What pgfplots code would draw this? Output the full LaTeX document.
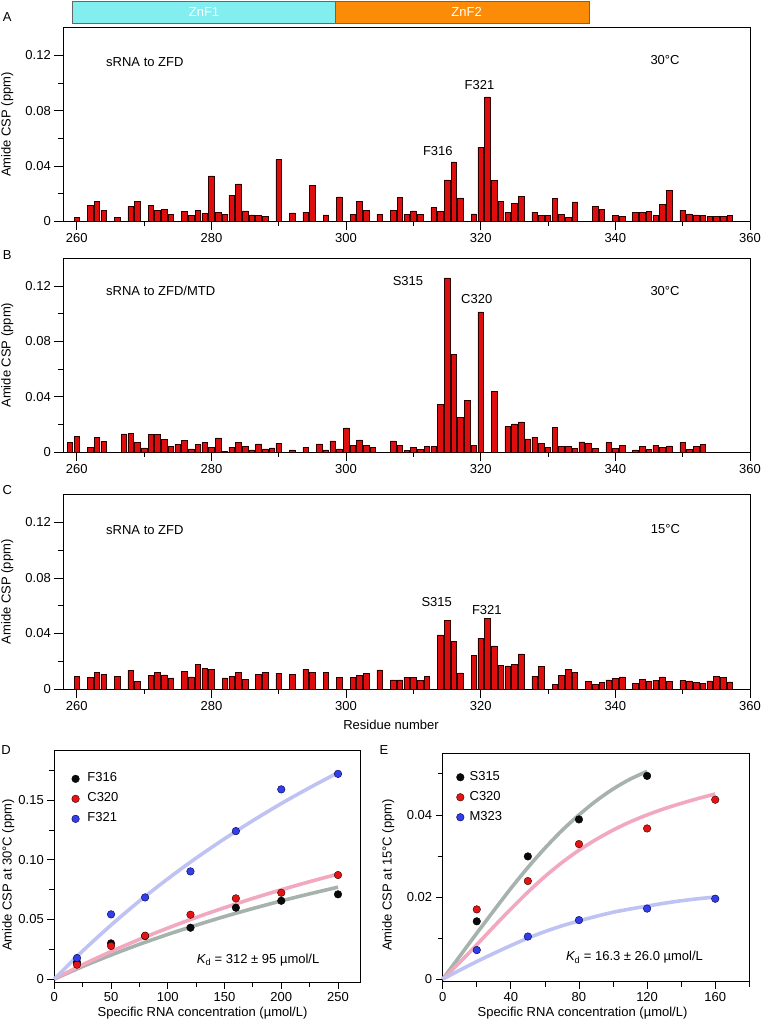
\documentclass[border=0pt]{standalone}
\usepackage{fontspec}
\setmainfont{Liberation Sans}
\usepackage{pgfplots}
\pgfplotsset{compat=1.18}
\definecolor{barred}{RGB}{222,14,14}
\definecolor{bardark}{RGB}{45,0,0}
\definecolor{znfa}{RGB}{130,238,240}
\definecolor{znfb}{RGB}{252,140,8}
\definecolor{cgray}{RGB}{166,178,172}
\definecolor{cpink}{RGB}{242,168,190}
\definecolor{cblue}{RGB}{190,195,244}
\definecolor{pblack}{RGB}{10,10,10}
\definecolor{pred}{RGB}{226,20,20}
\definecolor{pblue}{RGB}{50,62,232}
\newcommand\fs{\fontsize{13}{15.5}\selectfont}
\pgfplotsset{
  base/.style={scale only axis, anchor=south west, font=\fs, tick align=outside, tick pos=left,
    scaled ticks=false,
    major tick length=9pt, minor tick length=5pt,
    axis line style={line width=0.8pt, black}, tick style={black, line width=0.8pt},
    clip=false, ylabel style={anchor=center}, xlabel style={anchor=center}},
  csp/.style={base, width=686.7pt, xmin=258, xmax=360, ymin=0, ymax=0.14,
    xtick={260,280,300,320,340,360}, xticklabels={260,280,300,320,340,360},
    minor xtick={270,290,310,330,350},
    ytick={0,0.04,0.08,0.12}, yticklabels={0,0.04,0.08,0.12}, minor ytick={0.02,0.06,0.10},
    ylabel={Amide CSP (ppm)}, ylabel style={at={(axis description cs:-0.0816,0.5)}}},
  bars/.style={ybar, bar width=0.82, fill=barred, draw=bardark, line width=0.6pt},
  fit/.style={line width=3.6pt, smooth, forget plot},
  pts/.style={only marks, mark=*, mark size=3.8pt, mark options={line width=0.5pt}},
}
\begin{document}
\begin{tikzpicture}
\path[use as bounding box] (0pt,0pt) rectangle (763pt,1023pt);
% panel letters
\node[font=\fs] at (7.3pt,1006.3pt) {A};
\node[font=\fs] at (7.3pt,768pt) {B};
\node[font=\fs] at (7.3pt,533pt) {C};
\node[font=\fs] at (6pt,273pt) {D};
\node[font=\fs] at (384pt,273pt) {E};

% ---------------- A ----------------
\begin{axis}[csp, at={(63.3pt,801.7pt)}, height=193.6pt]
\draw[fill=znfa, draw=black!60, line width=0.6pt] (axis cs:259.34,0.1434) rectangle (axis cs:298.36,0.1593);
\draw[fill=znfb, draw=black!60, line width=0.6pt] (axis cs:298.36,0.1434) rectangle (axis cs:336.09,0.1593);
\node[font=\fs, text=white] at (axis cs:278.9,0.15135) {ZnF1};
\node[font=\fs, text=white] at (axis cs:317.9,0.15135) {ZnF2};
\addplot[bars] coordinates {
(260,0.003) (262,0.0116) (263,0.0145) (264,0.0077) (266,0.003) (268,0.0106) (269,0.0145)
(271,0.0113) (272,0.0077) (273,0.0084) (274,0.005) (276,0.0072) (277,0.004) (278,0.0077)
(279,0.0058) (280,0.0328) (281,0.0067) (282,0.005) (283,0.0188) (284,0.027) (285,0.0075)
(286,0.0046) (287,0.0043) (288,0.0036) (290,0.0448) (292,0.006) (294,0.0067) (295,0.0258)
(297,0.0046) (299,0.0176) (301,0.005) (302,0.0145) (303,0.0077) (305,0.005) (307,0.008)
(308,0.017) (309,0.005) (310,0.0075) (311,0.005) (313,0.0099) (314,0.0072) (315,0.0299)
(316,0.0429) (317,0.0169) (319,0.0053) (320,0.0537) (321,0.090) (322,0.0296) (323,0.0145)
(324,0.0065) (325,0.0128) (326,0.018) (328,0.0067) (329,0.0043) (330,0.0043) (331,0.0164)
(332,0.005) (333,0.0029) (334,0.014) (337,0.011) (338,0.0084) (340,0.0043) (341,0.0036)
(343,0.0063) (344,0.0063) (345,0.0072) (346,0.0043) (347,0.0123) (348,0.0222) (350,0.008)
(351,0.0053) (352,0.0046) (353,0.0041) (354,0.0034) (355,0.0034) (356,0.0034) (357,0.0043)
};
\node[font=\fs, anchor=west] at (axis cs:263.85,0.1152) {sRNA to ZFD};
\node[font=\fs] at (axis cs:347.38,0.1166) {30°C};
\node[font=\fs] at (axis cs:313.63,0.0508) {F316};
\node[font=\fs] at (axis cs:319.82,0.0988) {F321};
\end{axis}

% ---------------- B ----------------
\begin{axis}[csp, at={(63.3pt,571pt)}, height=193.7pt]
\addplot[bars] coordinates {
(259,0.0068) (260,0.0111) (262,0.0034) (263,0.0107) (264,0.0078) (267,0.0131) (268,0.0133)
(269,0.007) (270,0.0029) (271,0.0128) (272,0.0128) (273,0.0092) (274,0.0039) (275,0.0053)
(276,0.0085) (277,0.0022) (278,0.0053) (279,0.0068) (280,0.0031) (281,0.0102) (282,0.0007)
(283,0.0034) (284,0.0068) (285,0.0039) (286,0.0015) (287,0.0058) (288,0.0022) (289,0.0029)
(290,0.0063) (292,0.0015) (294,0.0034) (296,0.0058) (297,0.0015) (298,0.008) (299,0.0022)
(300,0.0174) (301,0.0048) (302,0.0087) (303,0.0048) (304,0.0031) (307,0.008) (308,0.0046)
(309,0.0012) (310,0.0031) (311,0.0019) (312,0.0039) (313,0.0039) (314,0.0344) (315,0.1258)
(316,0.0704) (317,0.0249) (318,0.0373) (319,0.0046) (320,0.1012) (322,0.044) (324,0.0184)
(325,0.0203) (326,0.0218) (327,0.0094) (328,0.0106) (329,0.006) (330,0.0034) (331,0.0177)
(332,0.0039) (333,0.0039) (334,0.0024) (335,0.0073) (336,0.006) (337,0.0027) (339,0.0068)
(340,0.0027) (341,0.0048) (343,0.0015) (344,0.0039) (345,0.0019) (346,0.0046) (347,0.0031)
(348,0.0044) (350,0.007) (351,0.0019) (352,0.0039) (353,0.0053)
};
\node[font=\fs, anchor=west] at (axis cs:263.85,0.1164) {sRNA to ZFD/MTD};
\node[font=\fs] at (axis cs:347.38,0.1164) {30°C};
\node[font=\fs] at (axis cs:309.2,0.1236) {S315};
\node[font=\fs] at (axis cs:319.41,0.1106) {C320};
\end{axis}

% ---------------- C ----------------
\begin{axis}[csp, at={(63.3pt,334pt)}, height=194.3pt,
  xlabel={Residue number}, xlabel style={at={(axis description cs:0.4772,-0.1853)}}]
\addplot[bars] coordinates {
(260,0.0092) (262,0.0084) (263,0.012) (264,0.0106) (266,0.0092) (268,0.0135) (269,0.0055)
(271,0.0096) (272,0.0118) (273,0.0101) (274,0.008) (276,0.0125) (277,0.0087) (278,0.0178)
(279,0.0147) (280,0.014) (282,0.008) (283,0.0089) (284,0.012) (285,0.007) (287,0.0106)
(288,0.012) (290,0.0113) (292,0.0104) (294,0.014) (295,0.012) (297,0.012) (299,0.0084)
(301,0.0084) (302,0.0096) (303,0.0111) (305,0.0137) (307,0.0065) (308,0.0065) (309,0.0084)
(310,0.0084) (311,0.0063) (312,0.0092) (314,0.039) (315,0.0497) (316,0.0342) (317,0.0116)
(319,0.0243) (320,0.0366) (321,0.0511) (322,0.0311) (323,0.0171) (324,0.0166) (325,0.0176)
(326,0.0253) (328,0.0092) (329,0.0164) (331,0.0034) (332,0.0099) (333,0.0142) (334,0.0118)
(336,0.0055) (337,0.0034) (338,0.0046) (339,0.0065) (340,0.0077) (341,0.0087) (343,0.0043)
(344,0.0067) (345,0.0055) (346,0.0063) (347,0.0087) (348,0.0055) (350,0.006) (351,0.0058)
(352,0.0048) (353,0.0039) (354,0.0058) (355,0.0092) (356,0.0082) (357,0.0051)
};
\node[font=\fs, anchor=west] at (axis cs:263.85,0.1143) {sRNA to ZFD};
\node[font=\fs] at (axis cs:347.45,0.1151) {15°C};
\node[font=\fs] at (axis cs:313.47,0.0627) {S315};
\node[font=\fs] at (axis cs:320.91,0.0569) {F321};
\end{axis}

% ---------------- D ----------------
\begin{axis}[base, at={(54.3pt,41pt)}, width=306.4pt, height=232pt,
  major tick length=7pt, minor tick length=5pt,
  xmin=0, xmax=270, ymin=-0.0025, ymax=0.192,
  xtick={0,50,100,150,200,250}, xticklabels={0,50,100,150,200,250},
  minor xtick={25,75,125,175,225},
  ytick={0,0.05,0.1,0.15}, yticklabels={0,0.05,0.10,0.15},
  minor ytick={0.025,0.075,0.125,0.175},
  xlabel={Specific RNA concentration (µmol/L)},
  xlabel style={at={(axis description cs:0.4837,-0.1336)}},
  ylabel={Amide CSP at 30°C (ppm)},
  ylabel style={at={(axis description cs:-0.150,0.461)}},
  legend style={at={(axis description cs:0.0564,0.911)}, anchor=north west, draw=none, fill=none,
    inner sep=0pt, row sep=4pt, column sep=6pt,
    nodes={inner sep=2pt, text height=9pt, text depth=3pt, font=\fs}},
  legend cell align=left,
  legend image code/.code={\draw[#1] plot coordinates {(0pt,0pt)};}]
\addplot[fit, cgray] coordinates {(0,0) (25,0.0105) (50,0.0201) (75,0.0291) (100,0.0374) (125,0.0451) (150,0.0524) (175,0.0591) (200,0.0655) (225,0.0714) (250,0.077)};
\addplot[fit, cpink] coordinates {(0,0) (25,0.0120) (50,0.0230) (75,0.0332) (100,0.0427) (125,0.0516) (150,0.0598) (175,0.0676) (200,0.0748) (225,0.0816) (250,0.088)};
\addplot[fit, cblue] coordinates {(0,0) (25,0.0235) (50,0.0452) (75,0.0654) (100,0.0840) (125,0.1014) (150,0.1176) (175,0.1328) (200,0.1471) (225,0.1604) (250,0.173)};
\addplot[pts, mark options={fill=pblack, draw=black}] coordinates {(20,0.014) (50,0.0299) (80,0.036) (120,0.043) (160,0.0598) (200,0.0656) (250,0.071)};
\addlegendentry{F316}
\addplot[pts, mark options={fill=pred, draw=black!80!red}] coordinates {(20,0.012) (50,0.0277) (80,0.0363) (120,0.0539) (160,0.0676) (200,0.0723) (250,0.0872)};
\addlegendentry{C320}
\addplot[pts, mark options={fill=pblue, draw=black!70!blue}] coordinates {(20,0.0176) (50,0.0542) (80,0.0684) (120,0.0902) (160,0.124) (200,0.159) (250,0.172)};
\addlegendentry{F321}
\node[font=\fs] at (axis cs:179.6,0.0159) {{\itshape K}\textsubscript{d} = 312 ± 95 µmol/L};
\end{axis}

% ---------------- E ----------------
\begin{axis}[base, at={(442.7pt,41.3pt)}, width=306.6pt, height=228.4pt,
  major tick length=7pt, minor tick length=5pt,
  xmin=0, xmax=180, ymin=-0.0006, ymax=0.055,
  xtick={0,40,80,120,160}, xticklabels={0,40,80,120,160},
  minor xtick={20,60,100,140,180},
  ytick={0,0.02,0.04}, yticklabels={0,0.02,0.04},
  minor ytick={0.01,0.03,0.05},
  xlabel={Specific RNA concentration (µmol/L)},
  xlabel style={at={(axis description cs:0.456,-0.137)}},
  ylabel={Amide CSP at 15°C (ppm)},
  ylabel style={at={(axis description cs:-0.1774,0.467)}},
  legend style={at={(axis description cs:0.0444,0.931)}, anchor=north west, draw=none, fill=none,
    inner sep=0pt, row sep=4pt, column sep=3.5pt,
    nodes={inner sep=2pt, text height=9pt, text depth=3pt, font=\fs}},
  legend cell align=left,
  legend image code/.code={\draw[#1] plot coordinates {(0pt,0pt)};}]
\addplot[fit, cgray] coordinates {(0,0) (10,0.0056) (20,0.0112) (30,0.0167) (40,0.0221) (50,0.0272) (60,0.0319) (70,0.0362) (80,0.0400) (90,0.0434) (100,0.0463) (110,0.0487) (120,0.0506)};
\addplot[fit, cpink] coordinates {(0,0) (10,0.0041) (20,0.0084) (30,0.0128) (40,0.0171) (50,0.0212) (60,0.0250) (70,0.0284) (80,0.0314) (90,0.0340) (100,0.0363) (110,0.0383) (120,0.0400) (130,0.0415) (140,0.0428) (150,0.0440) (160,0.0451)};
\addplot[fit, cblue] coordinates {(0,0) (10,0.0022) (20,0.0043) (30,0.0063) (40,0.0082) (50,0.0100) (60,0.0116) (70,0.0130) (80,0.0142) (90,0.0153) (100,0.0163) (110,0.0171) (120,0.0178) (130,0.0185) (140,0.0191) (150,0.0196) (160,0.0200)};
\addplot[pts, mark options={fill=pblack, draw=black}] coordinates {(20,0.0141) (50,0.0299) (80,0.0389) (120,0.0495)};
\addlegendentry{S315}
\addplot[pts, mark options={fill=pred, draw=black!80!red}] coordinates {(20,0.0170) (50,0.0239) (80,0.0329) (120,0.0367) (160,0.0437)};
\addlegendentry{C320}
\addplot[pts, mark options={fill=pblue, draw=black!70!blue}] coordinates {(20,0.0071) (50,0.0104) (80,0.0144) (120,0.0172) (160,0.0196)};
\addlegendentry{M323}
\node[font=\fs] at (axis cs:112.6,0.00526) {{\itshape K}\textsubscript{d} = 16.3 ± 26.0 µmol/L};
\end{axis}
\end{tikzpicture}
\end{document}
